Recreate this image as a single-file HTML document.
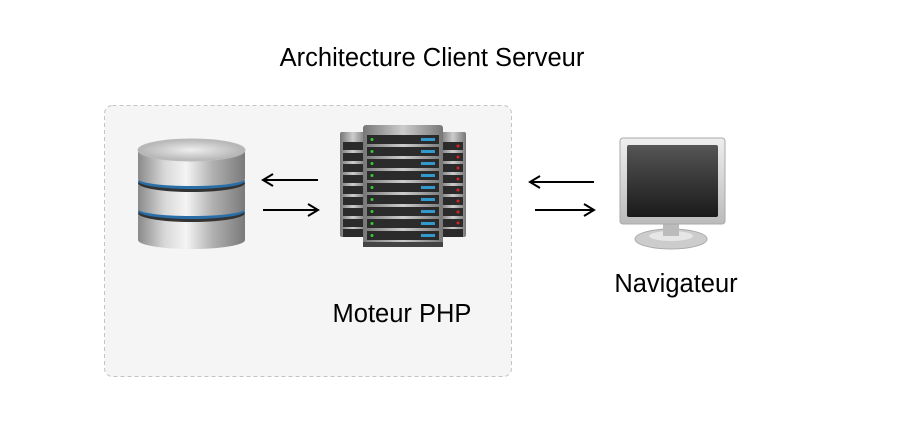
<!DOCTYPE html>
<html><head><meta charset="utf-8"><style>
html,body{margin:0;padding:0;background:#fff;}
svg{display:block;}
text{font-family:"Liberation Sans",sans-serif;fill:#000;}
</style></head><body>
<svg width="897" height="428" viewBox="0 0 897 428" xmlns="http://www.w3.org/2000/svg">
<defs>
<linearGradient id="metal" x1="0" x2="1" y1="0" y2="0">
<stop offset="0" stop-color="#8a8a8a"/><stop offset="0.25" stop-color="#d8d8d8"/><stop offset="0.45" stop-color="#f4f4f4"/><stop offset="0.7" stop-color="#b0b0b0"/><stop offset="1" stop-color="#7a7a7a"/>
</linearGradient>
<radialGradient id="top" cx="0.5" cy="0.5" r="0.6"><stop offset="0" stop-color="#eee"/><stop offset="1" stop-color="#a8a8a8"/></radialGradient>
<linearGradient id="rack" x1="0" x2="1"><stop offset="0" stop-color="#777"/><stop offset="0.5" stop-color="#ccc"/><stop offset="1" stop-color="#777"/></linearGradient>
<linearGradient id="scr" x1="0" y1="0" x2="0" y2="1"><stop offset="0" stop-color="#555"/><stop offset="1" stop-color="#1a1a1a"/></linearGradient>
<linearGradient id="bez" x1="0" y1="0" x2="0" y2="1"><stop offset="0" stop-color="#eee"/><stop offset="1" stop-color="#bbb"/></linearGradient>
</defs>
<text x="432" y="66" font-size="25.5" text-anchor="middle">Architecture Client Serveur</text>
<rect x="104.5" y="105.5" width="407" height="271" rx="8" fill="#f5f5f5" stroke="#c4c4c4" stroke-dasharray="4,3"/>
<!-- database -->
<g>
<rect x="138" y="214" width="107" height="26" fill="url(#metal)"/>
<ellipse cx="191.5" cy="240" rx="53.5" ry="9" fill="url(#metal)"/>
<ellipse cx="191.5" cy="213" rx="53.5" ry="9" fill="#333"/>
<ellipse cx="191.5" cy="211" rx="53.5" ry="8" fill="#2a6ea8"/>
<rect x="138" y="183" width="107" height="27" fill="url(#metal)"/>
<ellipse cx="191.5" cy="209" rx="53.5" ry="7" fill="url(#metal)"/>
<ellipse cx="191.5" cy="183" rx="53.5" ry="9" fill="#333"/>
<ellipse cx="191.5" cy="181" rx="53.5" ry="8" fill="#2a6ea8"/>
<rect x="138" y="150" width="107" height="29" fill="url(#metal)"/>
<ellipse cx="191.5" cy="179" rx="53.5" ry="7" fill="url(#metal)"/>
<ellipse cx="191.5" cy="150" rx="53.5" ry="11" fill="url(#top)" stroke="#bbb"/>
</g>
<!-- servers -->
<g>
<rect x="340" y="132" width="26" height="105" rx="2" fill="url(#rack)"/>
<rect x="440" y="132" width="26" height="105" rx="2" fill="url(#rack)"/>
<rect x="363" y="125" width="80" height="122" rx="3" fill="url(#rack)"/>
<rect x="363" y="242" width="80" height="5" fill="#444"/>
<g fill="#2b2b2b">
<rect x="367" y="135" width="72" height="9"/><rect x="367" y="147" width="72" height="9"/><rect x="367" y="159" width="72" height="9"/><rect x="367" y="171" width="72" height="9"/><rect x="367" y="183" width="72" height="9"/><rect x="367" y="195" width="72" height="9"/><rect x="367" y="207" width="72" height="9"/><rect x="367" y="219" width="72" height="9"/><rect x="367" y="231" width="72" height="9"/>
<rect x="343" y="142" width="20" height="8"/><rect x="343" y="153" width="20" height="8"/><rect x="343" y="164" width="20" height="8"/><rect x="343" y="175" width="20" height="8"/><rect x="343" y="186" width="20" height="8"/><rect x="343" y="197" width="20" height="8"/><rect x="343" y="208" width="20" height="8"/><rect x="343" y="219" width="20" height="8"/><rect x="343" y="229" width="20" height="8"/>
<rect x="443" y="142" width="20" height="8"/><rect x="443" y="153" width="20" height="8"/><rect x="443" y="164" width="20" height="8"/><rect x="443" y="175" width="20" height="8"/><rect x="443" y="186" width="20" height="8"/><rect x="443" y="197" width="20" height="8"/><rect x="443" y="208" width="20" height="8"/><rect x="443" y="219" width="20" height="8"/><rect x="443" y="229" width="20" height="8"/>
</g>
<g fill="#3c3">
<circle cx="372" cy="139.5" r="1.5"/><circle cx="372" cy="151.5" r="1.5"/><circle cx="372" cy="163.5" r="1.5"/><circle cx="372" cy="175.5" r="1.5"/><circle cx="372" cy="187.5" r="1.5"/><circle cx="372" cy="199.5" r="1.5"/><circle cx="372" cy="211.5" r="1.5"/><circle cx="372" cy="223.5" r="1.5"/><circle cx="372" cy="235.5" r="1.5"/>
</g>
<g fill="#d22">
<circle cx="458" cy="146" r="1.5"/><circle cx="458" cy="157" r="1.5"/><circle cx="458" cy="168" r="1.5"/><circle cx="458" cy="179" r="1.5"/><circle cx="458" cy="190" r="1.5"/><circle cx="458" cy="201" r="1.5"/><circle cx="458" cy="212" r="1.5"/><circle cx="458" cy="223" r="1.5"/>
</g>
<g fill="#39c">
<rect x="421" y="138" width="14" height="3"/><rect x="421" y="150" width="14" height="3"/><rect x="421" y="162" width="14" height="3"/><rect x="421" y="174" width="14" height="3"/><rect x="421" y="186" width="14" height="3"/><rect x="421" y="198" width="14" height="3"/><rect x="421" y="210" width="14" height="3"/><rect x="421" y="222" width="14" height="3"/><rect x="421" y="234" width="14" height="3"/>
</g>
</g>
<!-- monitor -->
<g>
<ellipse cx="671" cy="239" rx="36" ry="10" fill="#ccc" stroke="#aaa"/>
<ellipse cx="671" cy="236" rx="22" ry="5" fill="#e6e6e6"/>
<rect x="663" y="220" width="16" height="16" fill="#bbb"/>
<rect x="620" y="138" width="105" height="86" rx="3" fill="url(#bez)" stroke="#aaa"/>
<rect x="627" y="145" width="91" height="72" rx="2" fill="url(#scr)"/>
</g>
<!-- arrows -->
<g stroke="#000" stroke-width="2" fill="none">
<path d="M263 180 H318 M273 174 L263 180 L273 186"/>
<path d="M263 210 H318 M308 204 L318 210 L308 216"/>
<path d="M530 182 H594 M540 176 L530 182 L540 188"/>
<path d="M535 210 H594 M584 204 L594 210 L584 216"/>
</g>
<text x="402" y="322" font-size="25.5" text-anchor="middle">Moteur PHP</text>
<text x="676" y="292" font-size="25.5" text-anchor="middle">Navigateur</text>
</svg>
</body></html>
